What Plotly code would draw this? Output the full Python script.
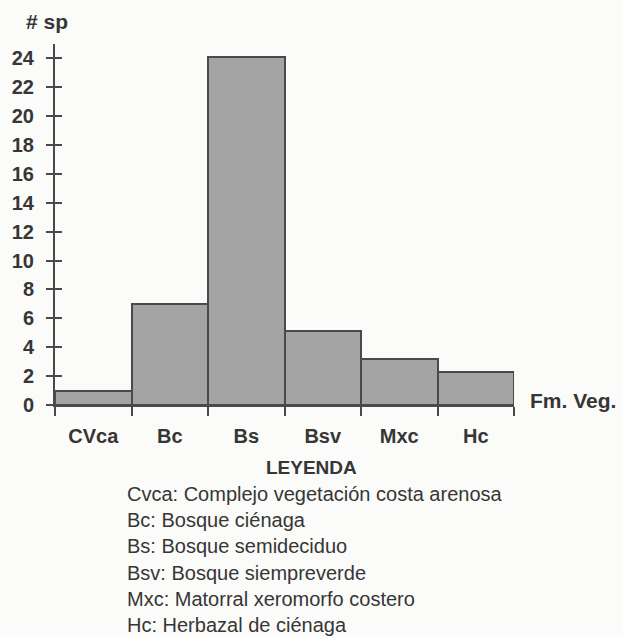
import plotly.graph_objects as go

categories = ["CVca", "Bc", "Bs", "Bsv", "Mxc", "Hc"]
species = [1, 7, 24.1, 5.1, 3.2, 2.3]
y_ticks = list(range(0, 25, 2))
legend_title = "LEYENDA"
legend_lines = [
    "Cvca: Complejo vegetación costa arenosa",
    "Bc: Bosque ciénaga",
    "Bs: Bosque semideciduo",
    "Bsv: Bosque siempreverde",
    "Mxc: Matorral xeromorfo costero",
    "Hc: Herbazal de ciénaga",
]

W, H = 623, 637
L, R, T, B = 52, 109, 44, 232
PH = H - T - B
TXT = "#363636"
FONT = "Liberation Sans, Arial, sans-serif"


def py(pix):
    return (H - B - pix) / PH


def px(pix):
    return (pix - L) / (W - L - R)


fig = go.Figure()
fig.add_trace(go.Bar(
    x=categories, y=species,
    marker=dict(color="#a4a4a4", line=dict(color="#4a4a4a", width=2)),
    width=1.0, showlegend=False, hoverinfo="x+y",
))
fig.add_trace(go.Scatter(x=categories, y=[None] * len(categories), yaxis="y2",
                         showlegend=False, hoverinfo="skip"))

fig.update_layout(
    width=W, height=H,
    margin=dict(l=L, r=R, t=T, b=B),
    paper_bgcolor="#fbfbf9", plot_bgcolor="rgba(0,0,0,0)",
    bargap=0,
    xaxis=dict(
        type="category", range=[-0.5, 5.5],
        showline=True, linecolor="#4a4a4a", linewidth=2,
        ticks="outside", tickson="boundaries", ticklen=9, tickwidth=2, tickcolor="#4a4a4a",
        showgrid=False, zeroline=False,
        tickfont=dict(family=FONT, size=20, color=TXT, weight="bold"),
        ticklabelstandoff=12,
    ),
    yaxis=dict(
        range=[0, 25], tickvals=y_ticks,
        showline=True, linecolor="#4a4a4a", linewidth=2,
        ticks="outside", ticklen=7, tickwidth=2, tickcolor="#4a4a4a",
        showgrid=False, zeroline=False,
        tickfont=dict(family=FONT, size=20, color=TXT, weight="bold"),
        ticklabelstandoff=8,
    ),
    yaxis2=dict(
        range=[0, 25], tickvals=y_ticks, overlaying="y", side="left",
        showline=False, ticks="inside", ticklen=7, tickwidth=2, tickcolor="#4a4a4a",
        showticklabels=False, showgrid=False, zeroline=False,
    ),
)

annotations = [
    dict(text="# sp", x=px(44), y=py(22), font=dict(family=FONT, size=21, color=TXT, weight="bold")),
    dict(text="Fm. Veg.", x=px(528), y=py(400), xanchor="left",
         font=dict(family=FONT, size=21, color=TXT, weight="bold")),
    dict(text=legend_title, x=px(310), y=py(468),
         font=dict(family=FONT, size=19, color=TXT, weight="bold")),
]
for i, line in enumerate(legend_lines):
    annotations.append(dict(text=line, x=px(122), y=py(494 + 26.2 * i), xanchor="left",
                            font=dict(family=FONT, size=20, color=TXT)))
for a in annotations:
    a.update(xref="paper", yref="paper", showarrow=False, yanchor="middle",
             xanchor=a.get("xanchor", "center"))
fig.update_layout(annotations=annotations)

fig.write_html("out.html", config={"displayModeBar": False},
               post_script="document.body.style.margin='0';document.body.style.background='#fbfbf9';")
